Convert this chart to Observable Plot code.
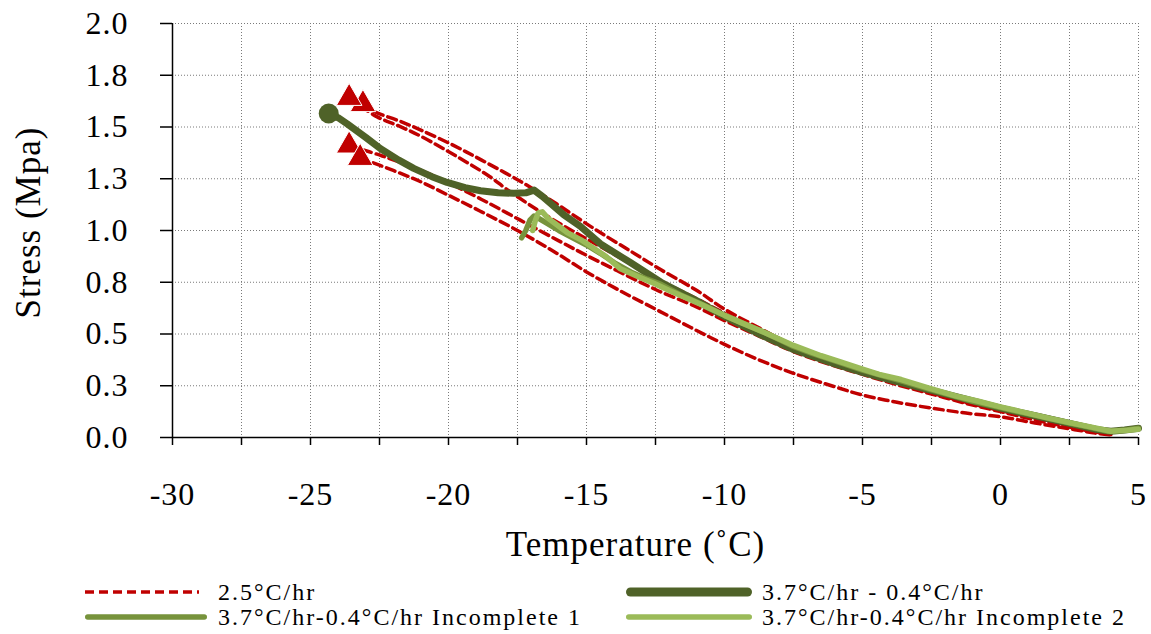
<!DOCTYPE html>
<html>
<head>
<meta charset="utf-8">
<script src="https://cdn.jsdelivr.net/npm/d3@7"></script>
<script src="https://cdn.jsdelivr.net/npm/@observablehq/plot@0.6"></script>
<style>
  html, body { margin: 0; padding: 0; background: #fff; }
  #wrap { position: relative; width: 1151px; height: 634px; font-family: "Liberation Serif", "Times New Roman", serif; }
  #chart svg text { letter-spacing: 1px; }
  .sw { position: absolute; }
  .lt { position: absolute; font-size: 24px; letter-spacing: 2px; color: #000; white-space: nowrap; line-height: 24px; }
</style>
</head>
<body>
<div id="wrap">
  <div id="chart"></div>
  <div id="legend"></div>
</div>
<script>
// ---- data (temperature °C, stress MPa) ----
const red1 = [[-23.1,1.61],[-22.7,1.575],[-21.8,1.53],[-21.0,1.485],[-19.8,1.41],[-18.8,1.34],[-17.3,1.23],[-16.1,1.13],[-15.2,1.05],[-14.5,0.99],[-13.4,0.9],[-12.3,0.81],[-11,0.71],[-10,0.62],[-8.75,0.53],[-7.5,0.445],[-6,0.37],[-5,0.32],[-3.75,0.27],[-2.5,0.225],[-1.25,0.18],[0,0.14],[1.25,0.1],[2.5,0.065],[3.5,0.035],[4,0.025]];
const red2 = [[-23.6,1.64],[-22.6,1.55],[-21.8,1.505],[-21.0,1.455],[-19.6,1.35],[-18.5,1.26],[-17.9,1.2],[-16.9,1.11],[-15.8,1.02],[-15,0.96],[-13.8,0.87],[-12.5,0.77],[-11,0.67],[-10,0.6],[-8.75,0.515],[-7.5,0.435],[-6,0.36],[-5,0.315],[-3.75,0.265],[-2.5,0.215],[-1.25,0.17],[0,0.13],[1.25,0.095],[2.5,0.06],[3.5,0.03],[4,0.02]];
const red3 = [[-23.6,1.41],[-22.4,1.36],[-21,1.29],[-20,1.23],[-18.8,1.15],[-17.4,1.05],[-16,0.95],[-15,0.88],[-13.8,0.8],[-12.5,0.715],[-11,0.63],[-10,0.565],[-8.75,0.49],[-7.5,0.415],[-6,0.345],[-5,0.305],[-3.75,0.255],[-2.5,0.21],[-1.25,0.165],[0,0.125],[1.25,0.085],[2.5,0.05],[3.5,0.025],[4,0.015]];
const red4 = [[-23.2,1.35],[-22,1.29],[-21,1.235],[-20,1.17],[-18.8,1.09],[-17.5,1.0],[-16.2,0.9],[-15,0.8],[-13.8,0.71],[-12.5,0.62],[-11.2,0.53],[-10,0.45],[-8.75,0.375],[-7.5,0.31],[-6,0.245],[-5,0.205],[-3.75,0.17],[-2.5,0.142],[-1.25,0.118],[0,0.1],[1.25,0.07],[2.5,0.042],[3.5,0.02],[4,0.012]];
const fullRun = [[-24.34,1.565],[-24.0,1.545],[-23.67,1.515],[-23.0,1.45],[-22.46,1.395],[-21.8,1.34],[-21.26,1.3],[-20.6,1.26],[-20.05,1.232],[-19.4,1.207],[-18.84,1.192],[-18.2,1.182],[-17.63,1.18],[-17.2,1.182],[-16.9,1.195],[-16.6,1.165],[-15.82,1.075],[-15.22,1.02],[-14.49,0.935],[-13.41,0.845],[-12.3,0.75],[-11,0.66],[-10,0.585],[-8.75,0.5],[-7.5,0.425],[-6,0.355],[-5,0.315],[-3.75,0.27],[-2.5,0.228],[-1.25,0.185],[0,0.142],[1.25,0.105],[2.5,0.068],[3.5,0.038],[4,0.03],[4.5,0.036],[5,0.045]];
const incomplete1 = [[-17.35,0.965],[-17.2,1.0],[-17.05,1.05],[-16.9,1.07],[-16.75,1.06],[-16.5,1.04],[-16.0,1.0],[-15.5,0.965],[-15.0,0.93],[-14.5,0.89],[-14.0,0.845],[-13.4,0.8],[-12.8,0.765],[-12.3,0.74],[-11.6,0.69],[-11,0.655],[-10.3,0.61],[-10,0.59],[-9.2,0.545],[-8.5,0.505],[-7.5,0.44],[-6.8,0.405],[-6,0.37],[-5,0.325],[-4.2,0.295],[-3.5,0.27],[-2.5,0.23],[-1.8,0.205],[-1,0.175],[0,0.145],[0.8,0.12],[1.5,0.1],[2.5,0.07],[3.2,0.05],[3.9,0.03],[4.5,0.035],[5,0.045]];
const incomplete2 = [[-16.95,1.0],[-16.85,1.05],[-16.75,1.085],[-16.6,1.09],[-16.4,1.06],[-16.1,1.03],[-15.7,0.99],[-15.2,0.955],[-14.86,0.925],[-14.3,0.875],[-13.77,0.815],[-13.1,0.775],[-12.56,0.745],[-12,0.71],[-11.4,0.675],[-10.8,0.64],[-10,0.59],[-9.4,0.555],[-8.6,0.51],[-8,0.475],[-7.5,0.445],[-6.5,0.395],[-5.8,0.365],[-5,0.33],[-4.4,0.305],[-3.6,0.28],[-2.5,0.235],[-1.6,0.2],[-0.8,0.175],[0,0.148],[0.9,0.12],[1.7,0.095],[2.5,0.072],[3.3,0.05],[4,0.03],[4.6,0.035],[5,0.04]];

const seriesNames = ["2.5°C/hr", "3.7°C/hr - 0.4°C/hr", "3.7°C/hr-0.4°C/hr Incomplete 1", "3.7°C/hr-0.4°C/hr Incomplete 2"];
const xTicks = [-30, -25, -20, -15, -10, -5, 0, 5];
const xMinorTicks = [-30, -27.5, -25, -22.5, -20, -17.5, -15, -12.5, -10, -7.5, -5, -2.5, 0, 2.5, 5];
const yTicks = [0, 0.25, 0.5, 0.75, 1.0, 1.25, 1.5, 1.75, 2.0];
const yTickLabels = ["0.0", "0.3", "0.5", "0.8", "1.0", "1.3", "1.5", "1.8", "2.0"];
const xTitle = "Temperature (˚C)";
const yTitle = "Stress (Mpa)";

// ---- styles ----
const RED = "#C00000", DARK = "#4F6228", MID = "#77933C", LIGHT = "#9BBB59";

const toRows = (arr, id) => arr.map(([T, S]) => ({T, S, id}));
const redRows = [...toRows(red1, "r1"), ...toRows(red2, "r2"), ...toRows(red3, "r3"), ...toRows(red4, "r4")];
const redStarts = [red1[0], red2[0], red3[0], red4[0]].map(([T, S]) => ({T, S}));
const circleStart = [{T: fullRun[0][0], S: fullRun[0][1]}];

const gridStyle = {stroke: "#7a7a7a", strokeOpacity: 1, strokeWidth: 1, strokeDasharray: "1,2"};

const chart = Plot.plot({
  width: 1151,
  height: 570,
  marginLeft: 172,
  marginRight: 13,
  marginTop: 23,
  marginBottom: 133,
  x: {domain: [-30, 5]},
  y: {domain: [0, 2]},
  style: {fontFamily: "'Liberation Serif', 'Times New Roman', serif", fontSize: "32px", color: "#000", background: "#fff", overflow: "visible"},
  marks: [
    Plot.gridX(xMinorTicks.filter(d => d > -30), gridStyle),
    Plot.gridY(yTicks.filter(d => d > 0), gridStyle),
    Plot.line(redRows, {x: "T", y: "S", z: "id", stroke: RED, strokeWidth: 3.5, strokeDasharray: "9,5", curve: "catmull-rom"}),
    Plot.line(toRows(fullRun, "a"), {x: "T", y: "S", stroke: DARK, strokeWidth: 7, strokeLinejoin: "round"}),
    Plot.line(toRows(incomplete1, "b"), {x: "T", y: "S", stroke: MID, strokeWidth: 5.5}),
    Plot.line(toRows(incomplete2, "c"), {x: "T", y: "S", stroke: LIGHT, strokeWidth: 5.5}),
    Plot.dot(redStarts, {x: "T", y: "S", symbol: "triangle", r: 9.5, fill: RED, stroke: "#fff", strokeWidth: 1}),
    Plot.dot(circleStart, {x: "T", y: "S", r: 10, fill: DARK}),
    Plot.ruleX([-30], {stroke: "#000", strokeWidth: 1.5}),
    Plot.ruleY([0], {stroke: "#000", strokeWidth: 1.5}),
    Plot.axisX(xMinorTicks, {tickSize: 8, strokeWidth: 1.5, stroke: "#000", text: null, label: null}),
    Plot.axisX(xTicks, {tickSize: 0, tickPadding: 45, tickFormat: d => String(d), label: null, fill: "#000"}),
    Plot.axisY(yTicks, {tickSize: 12, tickPadding: 32, strokeWidth: 1.5, stroke: "#000", fill: "#000",
      tickFormat: d => yTickLabels[yTicks.indexOf(d)], label: null}),
    Plot.text([xTitle], {frameAnchor: "bottom", dy: 118, dx: -20, fontSize: 35, fill: "#000"}),
    Plot.text([yTitle], {frameAnchor: "left", textAnchor: "middle", rotate: -90, dx: -144, dy: -8, fontSize: 35, fill: "#000"})
  ]
});
document.getElementById("chart").appendChild(chart);

// ---- legend (HTML below the SVG) ----
const legendItems = [
  {name: seriesNames[0], color: RED, width: 3.5, dash: "9,5", cap: "butt", left: 85, len: 114, textLeft: 218, top: 592},
  {name: seriesNames[1], color: DARK, width: 9, dash: null, cap: "round", left: 626, len: 126, textLeft: 762, top: 592},
  {name: seriesNames[2], color: MID, width: 5.5, dash: null, cap: "round", left: 85, len: 122, textLeft: 218, top: 617},
  {name: seriesNames[3], color: LIGHT, width: 5.5, dash: null, cap: "round", left: 626, len: 126, textLeft: 762, top: 617}
];
const legend = document.getElementById("legend");
for (const it of legendItems) {
  const pad = it.cap === "round" ? it.width / 2 : 0;
  const sw = document.createElement("div");
  sw.className = "sw";
  sw.style.left = it.left + "px";
  sw.style.top = (it.top - 7) + "px";
  sw.innerHTML = `<svg width="${it.len}" height="14"><line x1="${pad}" x2="${it.len - pad}" y1="7" y2="7" stroke="${it.color}" stroke-width="${it.width}" stroke-linecap="${it.cap}" ${it.dash ? `stroke-dasharray="${it.dash}"` : ""}/></svg>`;
  legend.appendChild(sw);
  const t = document.createElement("div");
  t.className = "lt";
  t.style.left = it.textLeft + "px";
  t.style.top = (it.top - 12) + "px";
  t.textContent = it.name;
  legend.appendChild(t);
}
</script>
</body>
</html>
